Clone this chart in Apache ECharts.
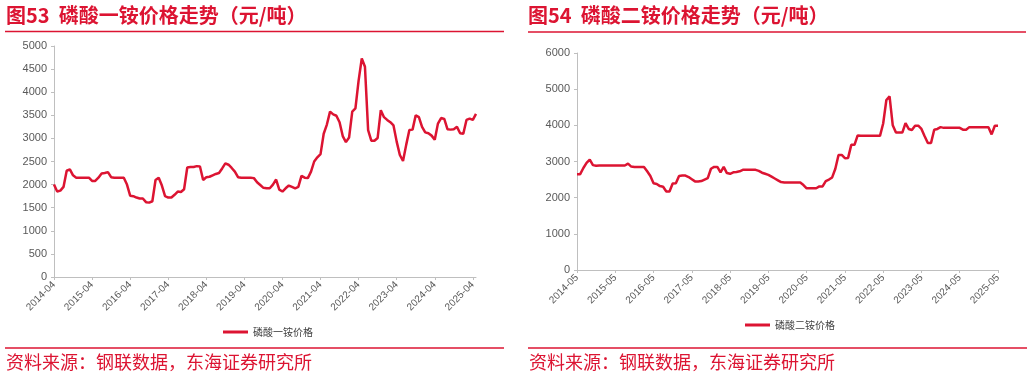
<!DOCTYPE html>
<html><head><meta charset="utf-8">
<script src="https://cdn.jsdelivr.net/npm/echarts@6/dist/echarts.min.js"></script>
<style>html,body{margin:0;padding:0;background:#fff}#c{width:1032px;height:377px}</style>
</head><body><div id="c"></div>
<script>
// ---- data ----
function months(y0, m0, n) {
  var out = [];
  for (var i = 0; i < n; i++) {
    var t = (y0 * 12 + (m0 - 1)) + i;
    var y = Math.floor(t / 12), m = t % 12 + 1;
    out.push(y + '-' + (m < 10 ? '0' + m : m));
  }
  return out;
}
var mapCategories = months(2014, 4, 134);   // 2014-04 .. 2025-05
var dapCategories = months(2014, 5, 133);   // 2014-05 .. 2025-05

var mapValues = [
  2000,1850,1870,1950,2300,2330,2200,2150,2150,2150,2150,2150,
  2080,2080,2150,2240,2250,2270,2160,2150,2150,2150,2150,2000,
  1760,1750,1720,1700,1700,1620,1610,1640,2100,2150,1980,1750,
  1720,1720,1780,1850,1840,1900,2370,2380,2380,2400,2390,2100,
  2160,2170,2200,2230,2250,2350,2460,2430,2360,2280,2160,2150,
  2150,2150,2150,2140,2050,1990,1930,1920,1920,2000,2110,1890,
  1850,1920,1980,1950,1920,1950,2190,2150,2140,2280,2500,2590,
  2660,3100,3300,3580,3520,3490,3350,3050,2920,3020,3580,3650,
  4250,4730,4550,3180,2950,2950,3010,3610,3460,3400,3350,3280,
  2930,2640,2510,2860,3180,3190,3500,3460,3250,3130,3110,3060,
  2970,3320,3440,3420,3200,3190,3200,3250,3110,3100,3400,3430,
  3400,3530
];
var dapValues = [
  2650,2650,2820,2960,3050,2900,2880,2890,2890,2890,2890,2890,
  2890,2890,2890,2890,2940,2860,2850,2850,2850,2850,2730,2600,
  2400,2380,2320,2300,2170,2170,2390,2400,2600,2610,2610,2570,
  2510,2450,2450,2460,2500,2540,2800,2850,2850,2700,2850,2680,
  2660,2700,2710,2730,2770,2770,2770,2770,2770,2740,2690,2660,
  2630,2580,2530,2480,2430,2420,2420,2420,2420,2420,2420,2350,
  2260,2260,2260,2260,2310,2310,2460,2500,2560,2800,3180,3180,
  3090,3100,3460,3460,3720,3710,3710,3710,3710,3710,3710,3710,
  4050,4700,4800,4000,3800,3800,3800,4060,3900,3870,3990,3990,
  3900,3700,3510,3510,3880,3900,3950,3930,3930,3930,3930,3930,
  3930,3880,3880,3950,3950,3950,3950,3950,3950,3950,3750,3990,
  3990
];
var mapName = '磷酸一铵价格';
var dapName = '磷酸二铵价格';
var title1 = '图53  磷酸一铵价格走势（元/吨）';
var title2 = '图54  磷酸二铵价格走势（元/吨）';
var sourceText = '资料来源：钢联数据，东海证券研究所';

// ---- chart ----
var RED = '#dc1432';
var CJK = '"Noto Sans CJK SC", "Noto Sans", sans-serif';
var LAT = 'Arial, "Liberation Sans", sans-serif';
var chart = echarts.init(document.getElementById('c'), null, {renderer: 'canvas'});

function xAxis(idx, cats) {
  return {
    type: 'category', gridIndex: idx, data: cats, boundaryGap: false,
    axisLine: {lineStyle: {color: '#bfbfbf', width: 1}},
    axisTick: {show: true, interval: 11, length: 3, lineStyle: {color: '#bfbfbf'}},
    axisLabel: {interval: 11, rotate: 45, fontSize: 10, color: '#595959', fontFamily: LAT, margin: 6},
    splitLine: {show: false}
  };
}
function yAxis(idx, max, interval) {
  return {
    type: 'value', gridIndex: idx, min: 0, max: max, interval: interval,
    axisLine: {show: true, lineStyle: {color: '#bfbfbf', width: 1}},
    axisTick: {show: true, length: 3, lineStyle: {color: '#bfbfbf'}},
    axisLabel: {fontSize: 11, color: '#595959', fontFamily: LAT, margin: 7,
                formatter: function (v) { return String(v); }},
    splitLine: {show: false}
  };
}

chart.setOption({
  animation: false,
  grid: [
    {left: 54, top: 46, width: 422, height: 231},
    {left: 577, top: 53, width: 421, height: 217}
  ],
  xAxis: [xAxis(0, mapCategories), xAxis(1, dapCategories)],
  yAxis: [yAxis(0, 5000, 500), yAxis(1, 6000, 1000)],
  legend: [
    {data: [mapName], left: 218, top: 322, itemWidth: 25, itemHeight: 3, itemGap: 4,
     icon: 'rect', textStyle: {fontSize: 10, color: '#404040', fontFamily: CJK}},
    {data: [dapName], left: 740, top: 315, itemWidth: 25, itemHeight: 3, itemGap: 4,
     icon: 'rect', textStyle: {fontSize: 10, color: '#404040', fontFamily: CJK}}
  ],
  series: [
    {name: mapName, type: 'line', xAxisIndex: 0, yAxisIndex: 0, data: mapValues,
     symbol: 'none', lineStyle: {color: RED, width: 2.5}, itemStyle: {color: RED}},
    {name: dapName, type: 'line', xAxisIndex: 1, yAxisIndex: 1, data: dapValues,
     symbol: 'none', lineStyle: {color: RED, width: 2.5}, itemStyle: {color: RED}}
  ],
  graphic: [
    {type: 'text', left: 6, top: 5, style: {text: title1, fill: RED, font: 'bold 20px ' + CJK}},
    {type: 'text', left: 528, top: 5, style: {text: title2, fill: RED, font: 'bold 20px ' + CJK}},
    {type: 'line', shape: {x1: 5, y1: 31.5, x2: 504, y2: 31.5}, style: {stroke: RED, lineWidth: 1.5}},
    {type: 'line', shape: {x1: 528, y1: 32, x2: 1026, y2: 32}, style: {stroke: RED, lineWidth: 1.5}},
    {type: 'line', shape: {x1: 5, y1: 348, x2: 504, y2: 348}, style: {stroke: RED, lineWidth: 1.5}},
    {type: 'line', shape: {x1: 528, y1: 348, x2: 1027, y2: 348}, style: {stroke: RED, lineWidth: 1.5}},
    {type: 'text', left: 6, top: 353, style: {text: sourceText, fill: RED, font: '18px ' + CJK}},
    {type: 'text', left: 529, top: 353, style: {text: sourceText, fill: RED, font: '18px ' + CJK}}
  ]
});
</script></body></html>
